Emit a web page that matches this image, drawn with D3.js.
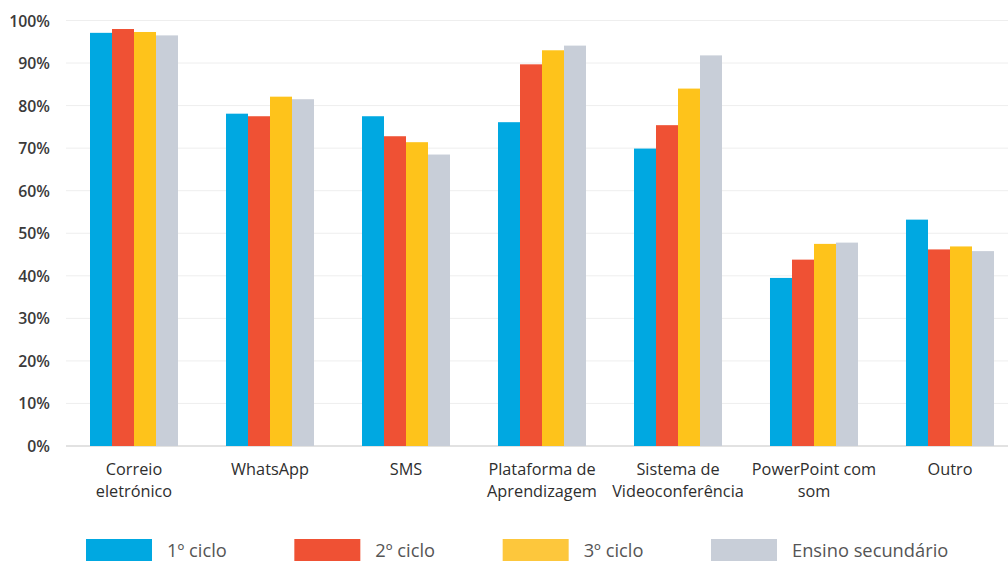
<!DOCTYPE html>
<html><head><meta charset="utf-8">
<script src="https://cdn.jsdelivr.net/npm/d3@7"></script>
<style>body{margin:0;background:#fff;}svg{display:block;font-family:"Open Sans",sans-serif;}</style>
</head><body><svg id="c" width="1008" height="562"></svg>
<script>
const categories = [["Correio","eletrónico"],["WhatsApp"],["SMS"],["Plataforma de","Aprendizagem"],["Sistema de","Videoconferência"],["PowerPoint com","som"],["Outro"]];
const seriesNames = ["1º ciclo","2º ciclo","3º ciclo","Ensino secundário"];
const ciclo1 = [97.1,78.1,77.5,76.1,69.9,39.5,53.2];
const ciclo2 = [98.0,77.5,72.8,89.7,75.4,43.8,46.2];
const ciclo3 = [97.3,82.1,71.4,93.0,84.0,47.5,46.9];
const secundario = [96.5,81.5,68.5,94.1,91.8,47.8,45.8];
const yTicks = [0,10,20,30,40,50,60,70,80,90,100];
const colors = ["#00a8e1","#ef5134","#fec31b","#c8ced8"];
const legendColors = ["#00a8e1","#ef5134","#fdc73c","#c8ced8"];

const series = [ciclo1,ciclo2,ciclo3,secundario];
const svg = d3.select("#c");
const catIdx = categories.map((d,i)=>i);
const x0 = d3.scaleBand().domain(catIdx).range([66,1018]).paddingInner(0.3529).paddingOuter(0.1765);
const x1 = d3.scaleBand().domain(d3.range(series.length)).range([0,x0.bandwidth()]);
const y = d3.scaleLinear().domain([0,100]).range([446,20.5]);

// grid
svg.append("g").selectAll("line").data(yTicks).join("line")
  .attr("x1",66).attr("x2",1008).attr("y1",d=>y(d)).attr("y2",d=>y(d))
  .attr("stroke",d=>d===0?"#d8d8d8":"#eeeeee").attr("stroke-width",d=>d===0?1.5:1);

// y labels
const yAxis = d3.axisLeft(y).tickValues(yTicks).tickFormat(d=>d+"%").tickSize(0).tickPadding(0);
const ya = svg.append("g").attr("transform","translate(50,0)").call(yAxis);
ya.select(".domain").remove();
ya.selectAll("text").attr("font-size",15.8).attr("font-weight",600).attr("fill","#3a3a3a").attr("font-family","Open Sans").attr("dy","0.35em");

// bars
const g = svg.append("g");
catIdx.forEach(ci=>{
  g.append("g").attr("transform",`translate(${x0(ci)},0)`)
   .selectAll("rect").data(series.map((s,si)=>({si,v:s[ci]}))).join("rect")
   .attr("x",d=>x1(d.si)).attr("width",x1.bandwidth())
   .attr("y",d=>y(d.v)).attr("height",d=>y(0)-y(d.v))
   .attr("fill",d=>colors[d.si]);
});

// x labels
const xl = svg.append("g");
catIdx.forEach(ci=>{
  const t = xl.append("text").attr("x",x0(ci)+x0.bandwidth()/2).attr("y",475)
    .attr("text-anchor","middle").attr("font-size",16.3).attr("fill","#2e2e2e");
  categories[ci].forEach((line,li)=>{
    t.append("tspan").attr("x",x0(ci)+x0.bandwidth()/2).attr("dy",li===0?0:22).text(line);
  });
});

// legend
const lx = d3.scaleLinear().domain([0,3]).range([86,711]);
const lg = svg.append("g");
seriesNames.forEach((n,i)=>{
  lg.append("rect").attr("x",lx(i)).attr("y",539).attr("width",66).attr("height",22).attr("fill",legendColors[i]);
  lg.append("text").attr("x",lx(i)+81).attr("y",557).attr("font-size",18.3).attr("fill","#555").text(n);
});
</script></body></html>
